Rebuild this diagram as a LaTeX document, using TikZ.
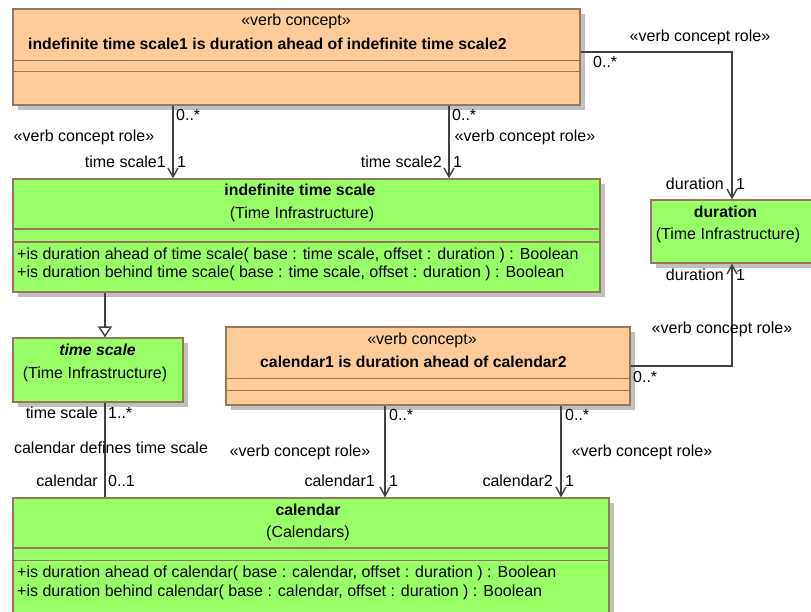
\documentclass[tikz,border=0pt]{standalone}
\usepackage{fontspec}
\setmainfont{Liberation Sans}
\usetikzlibrary{arrows.meta,fit,shadows,calc}
\definecolor{vcfill}{RGB}{255,204,153}
\definecolor{clfill}{RGB}{153,255,102}
\definecolor{bord}{RGB}{150,120,90}
\definecolor{lnc}{RGB}{64,64,64}
\definecolor{shad}{RGB}{192,192,192}
\tikzset{
 boxbase/.style={draw=bord, line width=1.3pt, inner sep=0pt,
   general shadow={fill=shad, shadow xshift=5pt, shadow yshift=-5pt}},
 vcbox/.style={boxbase, fill=vcfill},
 clbox/.style={boxbase, fill=clfill},
 comp/.style={draw=bord, line width=1.4pt},
 txt/.style={inner sep=0pt, text height=11.5pt, text depth=3.3pt, font=\fontsize{16}{18}\selectfont},
 btxt/.style={txt, font=\fontsize{15.8}{18}\selectfont\bfseries},
 bitxt/.style={txt, font=\fontsize{15.8}{18}\selectfont\bfseries\itshape},
 role/.style={draw=lnc, line width=1.4pt, -{Straight Barb[length=9pt,width=10pt]}},
 assoc/.style={draw=lnc, line width=1.4pt},
 gen/.style={draw=lnc, line width=1.4pt, -{Triangle[open, fill=white, length=11pt, width=14pt]}},
}
\begin{document}
\begin{tikzpicture}[x=1pt,y=-1pt]
\path[use as bounding box, clip] (0,0) rectangle (811,611);
\fill[white] (0,0) rectangle (811,611);

% boxes
\node[vcbox, fit={(13,9) (580,105)}] (vc1) {};
\node[clbox, fit={(13,179) (600,292)}] (its) {};
\node[clbox, fit={(651,200) (813,263)}] (dur) {};
\node[clbox, fit={(13,338) (183,402)}] (ts) {};
\node[vcbox, fit={(226,327) (630,405)}] (vc2) {};
\node[clbox, fit={(13,498) (609,620)}] (cal) {};

% compartments
\draw[comp] ([yshift=-52pt]vc1.north west) -- ([yshift=-52pt]vc1.north east);
\draw[comp] ([yshift=-63pt]vc1.north west) -- ([yshift=-63pt]vc1.north east);
\draw[comp] ([yshift=-50.5pt]its.north west) -- ([yshift=-50.5pt]its.north east);
\draw[comp] ([yshift=-63.5pt]its.north west) -- ([yshift=-63.5pt]its.north east);
\draw[comp] ([yshift=-52pt]vc2.north west) -- ([yshift=-52pt]vc2.north east);
\draw[comp] ([yshift=-64pt]vc2.north west) -- ([yshift=-64pt]vc2.north east);
\draw[comp] ([yshift=-50.5pt]cal.north west) -- ([yshift=-50.5pt]cal.north east);
\draw[comp] ([yshift=-63pt]cal.north west) -- ([yshift=-63pt]cal.north east);

% box texts
\node[txt] (vc1s) at (296,21) {«verb concept»};
\node[btxt, anchor=west] (vc1n) at (28,45) {indefinite time scale1 is duration ahead of indefinite time scale2};
\node[btxt] (itsn) at (300,191) {indefinite time scale};
\node[txt] (itsp) at (302,214) {(Time Infrastructure)};
\node[txt, anchor=west] (itso1) at (17,255) {+is duration ahead of time scale( base : time scale, offset : duration ) : Boolean};
\node[txt, anchor=west] (itso2) at (17,273) {+is duration behind time scale( base : time scale, offset : duration ) : Boolean};
\node[btxt] (durn) at (725.5,213) {duration};
\node[txt] (durp) at (728,235) {(Time Infrastructure)};
\node[bitxt] (tsn) at (97.5,351) {time scale};
\node[txt] (tsp) at (95,374) {(Time Infrastructure)};
\node[txt] (vc2s) at (422,340) {«verb concept»};
\node[btxt, anchor=west] (vc2n) at (260,363) {calendar1 is duration ahead of calendar2};
\node[btxt] (caln) at (308,511) {calendar};
\node[txt] (calp) at (308,533) {(Calendars)};
\node[txt, anchor=west] (calo1) at (17,573) {+is duration ahead of calendar( base : calendar, offset : duration ) : Boolean};
\node[txt, anchor=west] (calo2) at (17,592) {+is duration behind calendar( base : calendar, offset : duration ) : Boolean};

% connector helper coordinates
\coordinate (xa) at (173,0);
\coordinate (xb) at (449,0);
\coordinate (xg) at (105,0);
\coordinate (xc1) at (385,0);
\coordinate (xc2) at (561,0);
\coordinate (ry1) at (0,52);

% connectors
\draw[role] (vc1.south -| xa) -- (its.north -| xa);
\draw[role] (vc1.south -| xb) -- (its.north -| xb);
\draw[role] (vc1.east |- ry1) -| (dur.north);
\draw[role] (vc2.east) -| (dur.south);
\draw[gen] (its.south -| xg) -- (ts.north -| xg);
\draw[assoc] (ts.south -| xg) -- (cal.north -| xg);
\draw[role] (vc2.south -| xc1) -- (cal.north -| xc1);
\draw[role] (vc2.south -| xc2) -- (cal.north -| xc2);

% connector labels
\node[txt, anchor=west] (l1) at (176,116) {0..*};
\node[txt] (l2) at (84,137) {«verb concept role»};
\node[txt, anchor=east] (l3) at (166,163) {time scale1};
\node[txt, anchor=west] (l4) at (177,163) {1};
\node[txt, anchor=west] (l5) at (452,116) {0..*};
\node[txt] (l6) at (525,137) {«verb concept role»};
\node[txt, anchor=east] (l7) at (442,163) {time scale2};
\node[txt, anchor=west] (l8) at (453,163) {1};
\node[txt] (l9) at (700,37) {«verb concept role»};
\node[txt, anchor=west] (l10) at (593,63) {0..*};
\node[txt, anchor=east] (l11) at (724,185) {duration};
\node[txt, anchor=west] (l12) at (736,185) {1};
\node[txt, anchor=east] (l13) at (724,276) {duration};
\node[txt, anchor=west] (l14) at (736,276) {1};
\node[txt] (l15) at (722,329) {«verb concept role»};
\node[txt, anchor=west] (l16) at (633,378) {0..*};
\node[txt, anchor=east] (l17) at (98,414) {time scale};
\node[txt, anchor=west] (l18) at (108,414) {1..*};
\node[txt] (l19) at (111,449) {calendar defines time scale};
\node[txt, anchor=east] (l20) at (98,482) {calendar};
\node[txt, anchor=west] (l21) at (108,482) {0..1};
\node[txt, anchor=west] (l22) at (389,416) {0..*};
\node[txt] (l23) at (300,452) {«verb concept role»};
\node[txt, anchor=east] (l24) at (375,482) {calendar1};
\node[txt, anchor=west] (l25) at (389,482) {1};
\node[txt, anchor=west] (l26) at (565,416) {0..*};
\node[txt] (l27) at (642,452) {«verb concept role»};
\node[txt, anchor=east] (l28) at (553,482) {calendar2};
\node[txt, anchor=west] (l29) at (565,482) {1};
\end{tikzpicture}
\end{document}
